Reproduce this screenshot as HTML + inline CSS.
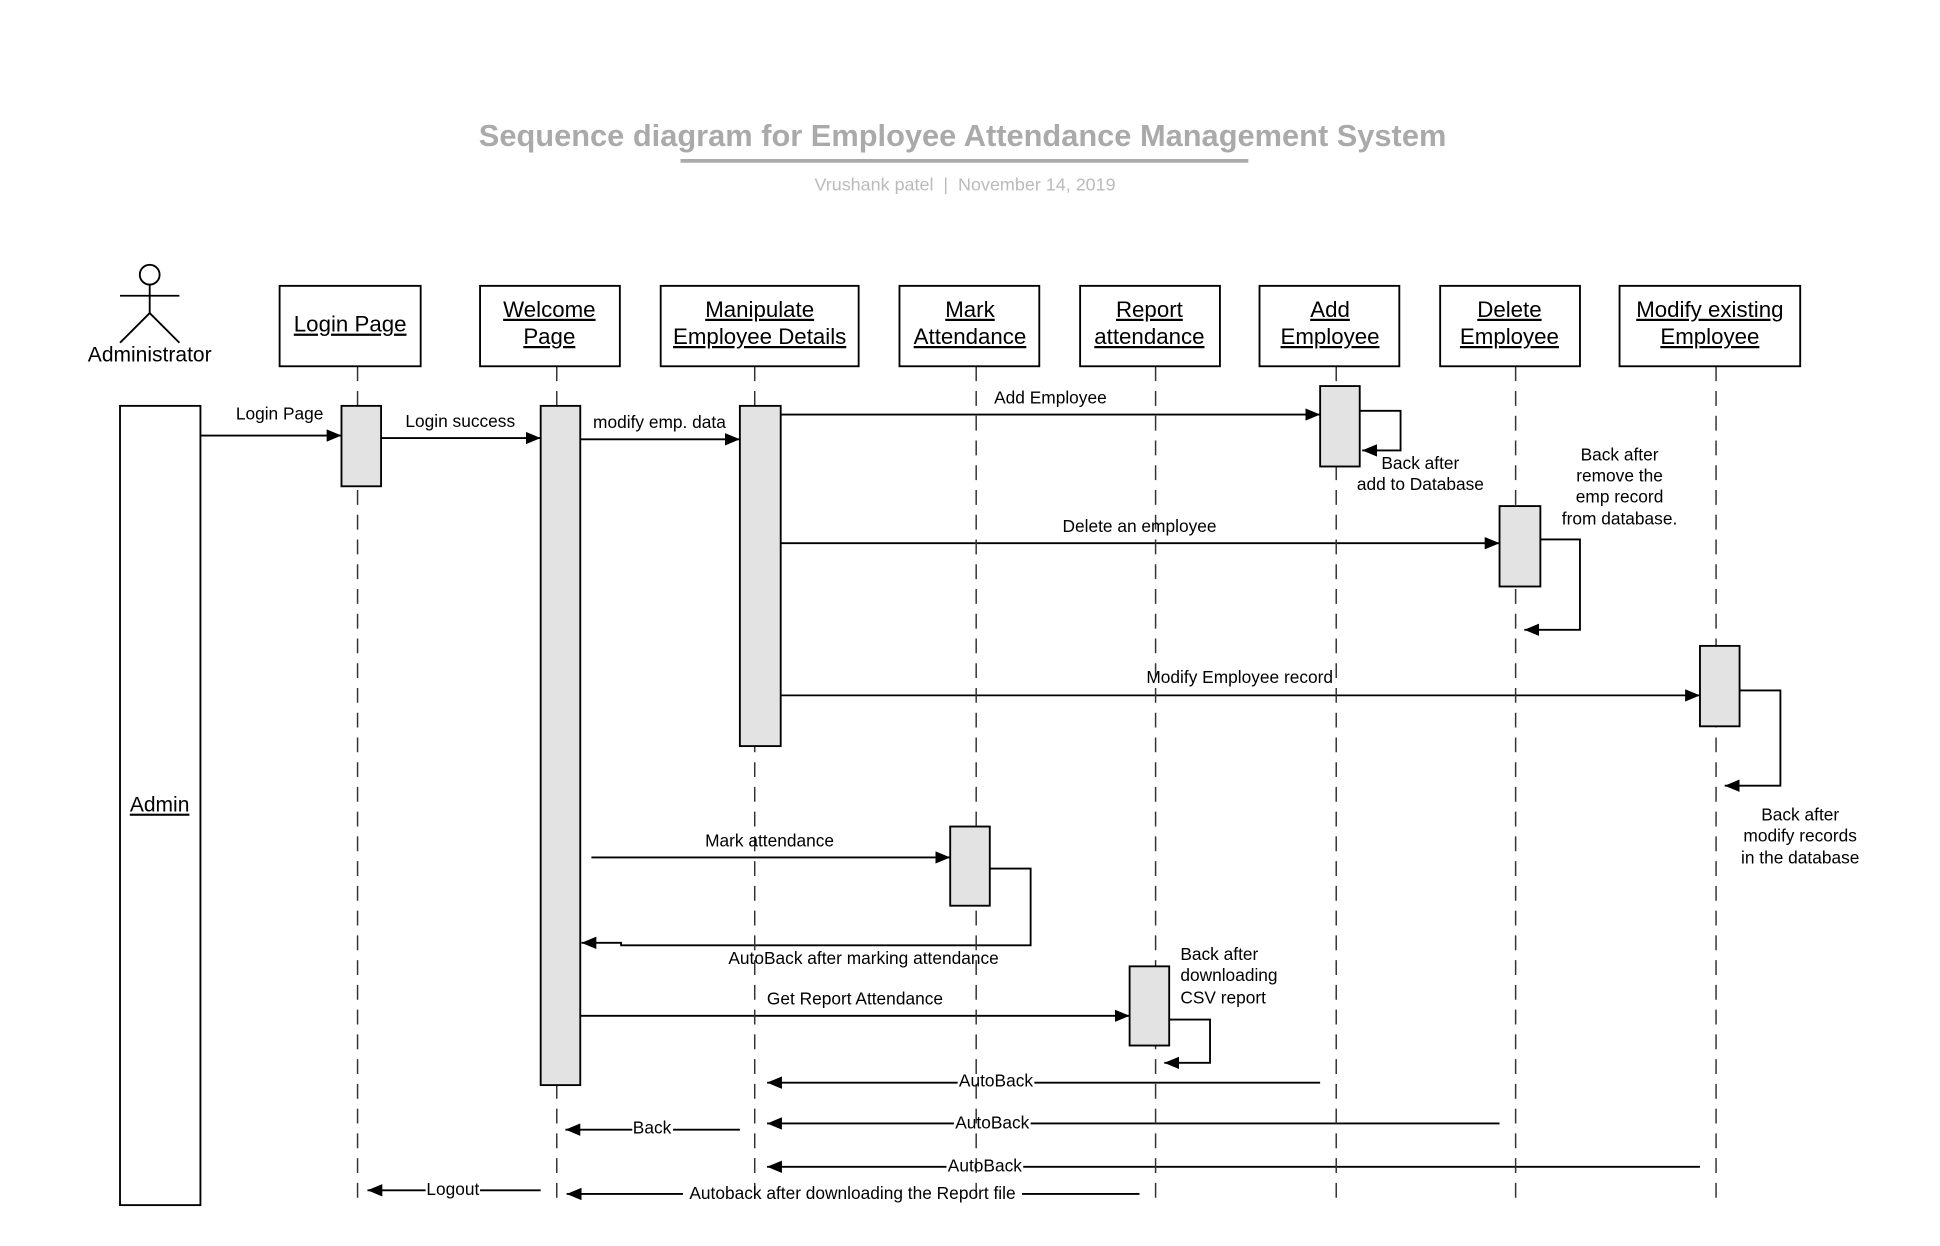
<!DOCTYPE html>
<html><head><meta charset="utf-8"><style>html,body{margin:0;padding:0;background:#fff}svg{display:block}text{font-family:"Liberation Sans",Arial,sans-serif}</style></head>
<body>
<svg width="1940" height="1246" viewBox="0 0 1568 1007" xmlns="http://www.w3.org/2000/svg">
<defs>
<marker id="a" markerWidth="12" markerHeight="10" refX="12" refY="5" orient="auto" markerUnits="userSpaceOnUse"><path d="M0,0 L12,5 L0,10 z" fill="#000"/></marker>
</defs>
<rect width="1568" height="1007" fill="#fff"/>
<text x="778" y="118" text-anchor="middle" font-size="24.9" font-weight="bold" fill="#aaa">Sequence diagram for Employee Attendance Management System</text>
<line x1="550" y1="130" x2="1009" y2="130" stroke="#aaa" stroke-width="3"/>
<text x="780" y="154" text-anchor="middle" font-size="14.5" fill="#bbb" xml:space="preserve">Vrushank patel  |  November 14, 2019</text>

<g stroke="#000" stroke-width="1.5" fill="none">
<circle cx="121" cy="222" r="8"/>
<line x1="97" y1="239" x2="145" y2="239"/>
<line x1="121" y1="230" x2="121" y2="253"/>
<line x1="121" y1="253" x2="97" y2="277"/>
<line x1="121" y1="253" x2="145" y2="277"/>
</g>
<text x="121" y="292" text-anchor="middle" font-size="17">Administrator</text>

<g stroke="#000" stroke-width="1.5" fill="none" marker-end="url(#a)">
<line x1="162" y1="352" x2="276" y2="352"/>
<line x1="308" y1="354" x2="437" y2="354"/>
<line x1="469" y1="355" x2="598" y2="355"/>
<line x1="631" y1="335" x2="1067" y2="335"/>
<polyline points="1099,332 1132,332 1132,364 1101,364"/>
<line x1="631" y1="439" x2="1212" y2="439"/>
<polyline points="1245,436 1277,436 1277,509 1232,509"/>
<line x1="631" y1="562" x2="1374" y2="562"/>
<polyline points="1406,558 1439,558 1439,635 1394,635"/>
<line x1="478" y1="693" x2="768" y2="693"/>
<polyline points="800,702 833,702 833,764 502,764 502,762 470,762"/>
<line x1="469" y1="821" x2="913" y2="821"/>
<polyline points="945,824 978,824 978,859 941,859"/>
<line x1="1067" y1="875" x2="620" y2="875"/>
<line x1="598" y1="913" x2="457" y2="913"/>
<line x1="1212" y1="908" x2="620" y2="908"/>
<line x1="1374" y1="943" x2="620" y2="943"/>
<line x1="437" y1="962" x2="297" y2="962"/>
<line x1="921" y1="965" x2="458" y2="965"/>
</g>
<g fill="#fff">
<rect x="774" y="866" width="62" height="16"/>
<rect x="511" y="905" width="33" height="16"/>
<rect x="771" y="900" width="62" height="16"/>
<rect x="765" y="935" width="62" height="16"/>
<rect x="344" y="954" width="44" height="16"/>
<rect x="552" y="957" width="274" height="16"/>
</g>

<g stroke="#333" stroke-width="1.2" stroke-dasharray="12 8">
<line x1="289" y1="296" x2="289" y2="975"/>
<line x1="450" y1="296" x2="450" y2="975"/>
<line x1="610" y1="296" x2="610" y2="975"/>
<line x1="789" y1="296" x2="789" y2="975"/>
<line x1="934" y1="296" x2="934" y2="975"/>
<line x1="1080" y1="296" x2="1080" y2="975"/>
<line x1="1225" y1="296" x2="1225" y2="975"/>
<line x1="1387" y1="296" x2="1387" y2="975"/>
</g>

<g stroke="#000" stroke-width="1.5" fill="#fff">
<rect x="226" y="231" width="114" height="65"/>
<rect x="388" y="231" width="113" height="65"/>
<rect x="534" y="231" width="160" height="65"/>
<rect x="727" y="231" width="113" height="65"/>
<rect x="873" y="231" width="113" height="65"/>
<rect x="1018" y="231" width="113" height="65"/>
<rect x="1164" y="231" width="113" height="65"/>
<rect x="1309" y="231" width="146" height="65"/>
<rect x="97" y="328" width="65" height="646"/>
</g>
<g font-size="18" text-anchor="middle" text-decoration="underline">
<text x="283" y="268">Login Page</text>
<text x="444" y="256">Welcome</text><text x="444" y="278">Page</text>
<text x="614" y="256">Manipulate</text><text x="614" y="278">Employee Details</text>
<text x="784" y="256">Mark</text><text x="784" y="278">Attendance</text>
<text x="929" y="256">Report</text><text x="929" y="278">attendance</text>
<text x="1075" y="256">Add</text><text x="1075" y="278">Employee</text>
<text x="1220" y="256">Delete</text><text x="1220" y="278">Employee</text>
<text x="1382" y="256">Modify existing</text><text x="1382" y="278">Employee</text>
<text x="129" y="656" font-size="17">Admin</text>
</g>

<g stroke="#000" stroke-width="1.5" fill="#e3e3e3">
<rect x="276" y="328" width="32" height="65"/>
<rect x="437" y="328" width="32" height="549"/>
<rect x="598" y="328" width="33" height="275"/>
<rect x="1067" y="312" width="32" height="65"/>
<rect x="1212" y="409" width="33" height="65"/>
<rect x="1374" y="522" width="32" height="65"/>
<rect x="768" y="668" width="32" height="64"/>
<rect x="913" y="781" width="32" height="64"/>
</g>

<g font-size="14" text-anchor="middle">
<text x="226" y="339">Login Page</text>
<text x="372" y="345">Login success</text>
<text x="533" y="346">modify emp. data</text>
<text x="849" y="326">Add Employee</text>
<text x="1148" y="379">Back after</text><text x="1148" y="396">add to Database</text>
<text x="921" y="430">Delete an employee</text>
<text x="1309" y="372">Back after</text><text x="1309" y="389">remove the</text><text x="1309" y="406">emp record</text><text x="1309" y="424">from database.</text>
<text x="1002" y="552">Modify Employee record</text>
<text x="1455" y="663">Back after</text><text x="1455" y="680">modify records</text><text x="1455" y="698">in the database</text>
<text x="622" y="684">Mark attendance</text>
<text x="698" y="779">AutoBack after marking attendance</text>
<text x="691" y="812">Get Report Attendance</text>
<text x="805" y="878">AutoBack</text>
<text x="527" y="916">Back</text>
<text x="802" y="912">AutoBack</text>
<text x="796" y="947">AutoBack</text>
<text x="366" y="966">Logout</text>
<text x="689" y="969">Autoback after downloading the Report file</text>
</g>
<g font-size="14">
<text x="954" y="776">Back after</text><text x="954" y="793">downloading</text><text x="954" y="811">CSV report</text>
</g>
</svg>
</body></html>
